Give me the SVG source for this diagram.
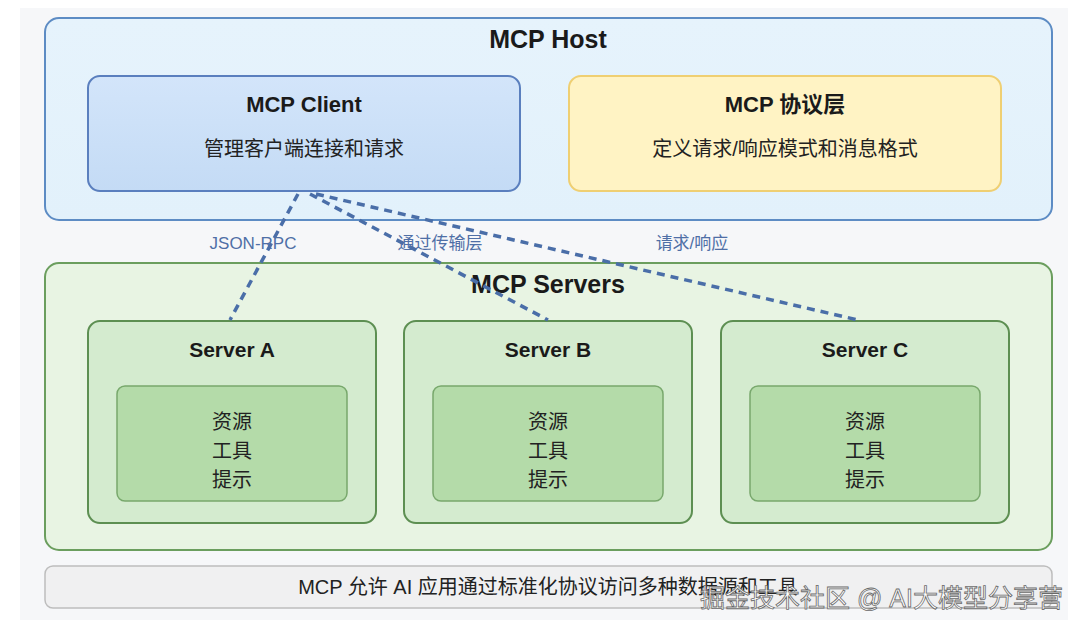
<svg xmlns="http://www.w3.org/2000/svg" width="1080" height="630" viewBox="0 0 1080 630">
<style>
text{font-family:"Liberation Sans","Noto Sans CJK SC",sans-serif;text-anchor:middle;fill:#1a1a1a}
.h1{font-size:25px;font-weight:bold}
.h2{font-size:22px;font-weight:bold}
.h3{font-size:21px;font-weight:bold}
.sub{font-size:20px;fill:#222}
.lbl{font-size:17px;fill:#4f6fa6}
.conn{stroke:#4a6ea8;stroke-width:3.5;stroke-dasharray:8 6;fill:none}
.srv{fill:#d4ebcf;stroke:#5d8f52;stroke-width:2}
.inner{fill:#b4dba9;stroke:#78a86c;stroke-width:1.5}
.wm{font-size:25px;fill:#fff;stroke:#6a6a6a;stroke-width:0.8;text-anchor:start}
</style>
<defs>
<linearGradient id="gClient" x1="0" y1="0" x2="0" y2="1"><stop offset="0" stop-color="#d3e5fa"/><stop offset="1" stop-color="#c4dbf5"/></linearGradient>
<linearGradient id="gHost" x1="0" y1="0" x2="0" y2="1"><stop offset="0" stop-color="#e6f3fc"/><stop offset="1" stop-color="#e2f1fb"/></linearGradient>
</defs>
<rect x="0" y="0" width="1080" height="630" fill="#ffffff"/>
<rect x="20" y="8" width="1048" height="612" fill="#f6f7f9"/>
<g id="host">
<rect x="45" y="18" width="1007" height="202" rx="14" fill="url(#gHost)" stroke="#5d8cc4" stroke-width="2"/>
<text class="h1" x="548" y="48">MCP Host</text>
</g>
<g id="client">
<rect x="88" y="76" width="432" height="115" rx="12" fill="url(#gClient)" stroke="#5a7fbe" stroke-width="2"/>
<text class="h2" x="304" y="112">MCP Client</text>
<text class="sub" x="304" y="156">管理客户端连接和请求</text>
</g>
<g id="protocol">
<rect x="569" y="76" width="432" height="115" rx="12" fill="#fff3c4" stroke="#efcf72" stroke-width="2"/>
<text class="h2" x="785" y="112">MCP 协议层</text>
<text class="sub" x="785" y="156">定义请求/响应模式和消息格式</text>
</g>
<g id="servers">
<rect x="45" y="263" width="1007" height="287" rx="14" fill="#e8f4e3" stroke="#6b9e5e" stroke-width="2"/>
<text class="h1" x="548" y="293">MCP Servers</text>
</g>
<g id="serverA">
<rect class="srv" x="88" y="321" width="288" height="202" rx="12"/>
<text class="h3" x="232" y="357">Server A</text>
<rect class="inner" x="117" y="386" width="230" height="115" rx="8"/>
<text class="sub" x="232" y="429">资源</text>
<text class="sub" x="232" y="458">工具</text>
<text class="sub" x="232" y="487">提示</text>
</g>
<g id="serverB">
<rect class="srv" x="404" y="321" width="288" height="202" rx="12"/>
<text class="h3" x="548" y="357">Server B</text>
<rect class="inner" x="433" y="386" width="230" height="115" rx="8"/>
<text class="sub" x="548" y="429">资源</text>
<text class="sub" x="548" y="458">工具</text>
<text class="sub" x="548" y="487">提示</text>
</g>
<g id="serverC">
<rect class="srv" x="721" y="321" width="288" height="202" rx="12"/>
<text class="h3" x="865" y="357">Server C</text>
<rect class="inner" x="750" y="386" width="230" height="115" rx="8"/>
<text class="sub" x="865" y="429">资源</text>
<text class="sub" x="865" y="458">工具</text>
<text class="sub" x="865" y="487">提示</text>
</g>
<g id="connectors">
<line class="conn" x1="298" y1="194" x2="230" y2="320"/>
<line class="conn" x1="310" y1="194" x2="548" y2="320"/>
<line class="conn" x1="316" y1="194" x2="858" y2="320"/>
<text class="lbl" x="253" y="249">JSON-RPC</text>
<text class="lbl" x="440" y="249">通过传输层</text>
<text class="lbl" x="692" y="249">请求/响应</text>
</g>
<g id="footer">
<rect x="45" y="566" width="1007" height="42" rx="8" fill="#f0f0f1" stroke="#bdbdbd" stroke-width="1.5"/>
<text class="sub" x="548" y="594">MCP 允许 AI 应用通过标准化协议访问多种数据源和工具</text>
</g>
<text class="wm" x="700" y="607">掘金技术社区 @ AI大模型分享营</text>
</svg>
